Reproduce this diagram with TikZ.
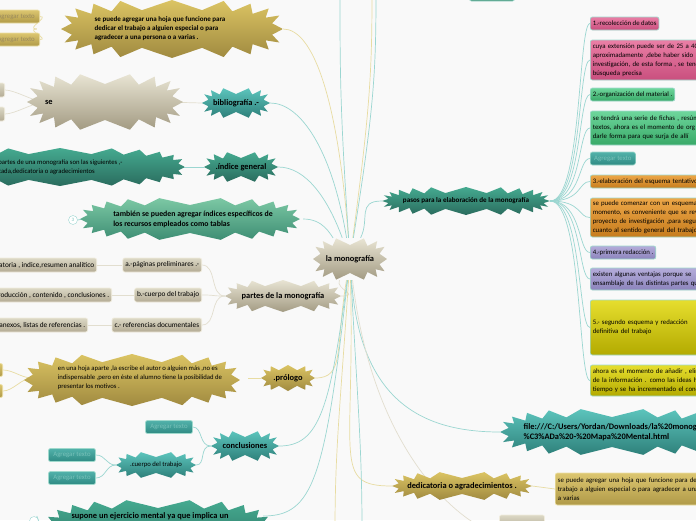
\documentclass[tikz,border=0pt]{standalone}
\usepackage{fontspec}
\setmainfont{Carlito}
\usetikzlibrary{backgrounds}

\definecolor{pagebg}{HTML}{F9F9F9}
\definecolor{goldT}{HTML}{DBC463}
\definecolor{goldB}{HTML}{A08A40}
\definecolor{beigeT}{HTML}{E8E4D3}
\definecolor{beigeB}{HTML}{A39B83}
\definecolor{tealT}{HTML}{5CC4BC}
\definecolor{tealB}{HTML}{2E807A}
\definecolor{pineT}{HTML}{45AA90}
\definecolor{pineB}{HTML}{2A6C5E}
\definecolor{mintT}{HTML}{7CC8A4}
\definecolor{mintB}{HTML}{3E8E74}
\definecolor{lineTeal}{HTML}{9BD6D1}
\definecolor{lineGold}{HTML}{E8DCA2}
\definecolor{lineBeige}{HTML}{E2DECF}
\definecolor{cardBeigeT}{HTML}{DCD8C5}
\definecolor{cardBeigeB}{HTML}{B3AB94}
\definecolor{cardBeigeE}{HTML}{F0ECDD}
\definecolor{pinkT}{HTML}{EA7FA6}
\definecolor{pinkB}{HTML}{C94F7E}
\definecolor{greenT}{HTML}{6ED69C}
\definecolor{greenB}{HTML}{39A968}
\definecolor{dimT}{HTML}{52B2AA}
\definecolor{dimB}{HTML}{2F8A83}
\definecolor{orangeT}{HTML}{EDA748}
\definecolor{orangeB}{HTML}{C67C1D}
\definecolor{lilacT}{HTML}{B4ACDA}
\definecolor{lilacB}{HTML}{8C84BC}
\definecolor{lemonT}{HTML}{E6DE2E}
\definecolor{lemonB}{HTML}{B3AA00}
\definecolor{sandT}{HTML}{DCC670}
\definecolor{sandB}{HTML}{B09A48}
\definecolor{sandE}{HTML}{ECDFA4}
\definecolor{cardEdge}{HTML}{9FD9CC}
\definecolor{dimText}{HTML}{78C2BA}
\definecolor{sandText}{HTML}{9A8A5C}

% spiky blob: cx, cy, half width, half height, spikes, depth, fill style
\newcommand{\jagged}[7]{%
  \pgfmathtruncatemacro{\jagsamples}{2*#5+1}%
  \shade[#7] plot[domain=0:360, samples=\jagsamples]
    ({#1+(#3-#6*mod(round(\x*#5/180),2))*cos(\x)*(abs(cos(\x))+0.001)^(-0.35)},
     {#2+(#4-#6*mod(round(\x*#5/180),2))*sin(\x)*(abs(sin(\x))+0.001)^(-0.35)}) -- cycle;}

\tikzset{
  goldfill/.style={top color=goldT, bottom color=goldB},
  beigefill/.style={top color=beigeT, bottom color=beigeB},
  tealfill/.style={top color=tealT, bottom color=tealB},
  pinefill/.style={top color=pineT, bottom color=pineB},
  mintfill/.style={top color=mintT, bottom color=mintB},
  hub/.style={inner sep=0pt, align=center, font=\fontsize{8.4}{10}\selectfont\bfseries},
  leaf/.style={inner sep=0pt, align=left, font=\fontsize{6.7}{9}\selectfont},
  card/.style={rounded corners=2pt, inner sep=2.5pt, align=left, minimum height=13pt,
    font=\fontsize{6.8}{9}\selectfont, line width=0.7pt},
  beigecard/.style={card, font=\fontsize{7.3}{9}\selectfont, minimum height=14pt,
    top color=cardBeigeT, bottom color=cardBeigeB, draw=cardBeigeE},
  sandcard/.style={card, top color=sandT, bottom color=sandB, draw=sandE},
  dimcard/.style={card, top color=dimT, bottom color=dimB, draw=cardEdge, text=dimText},
  pinkcard/.style={card, top color=pinkT, bottom color=pinkB, draw=cardEdge},
  greencard/.style={card, top color=greenT, bottom color=greenB, draw=cardEdge},
  orangecard/.style={card, top color=orangeT, bottom color=orangeB, draw=cardEdge},
  lilaccard/.style={card, top color=lilacT, bottom color=lilacB, draw=cardEdge},
  lemoncard/.style={card, top color=lemonT, bottom color=lemonB, draw=cardEdge},
  mintcard/.style={card, top color=mintT, bottom color=mintB, draw=cardEdge},
  fold/.style={circle, draw=lineTeal, fill=white, inner sep=0pt, minimum size=9pt,
    font=\fontsize{5}{5}\selectfont, text=dimText},
  gline/.style={lineGold, line width=0.7pt},
  tline/.style={lineTeal, line width=0.7pt},
  bline/.style={lineBeige, line width=0.7pt},
}

\begin{document}
\begin{tikzpicture}[x=1pt, y=-1pt]
  \useasboundingbox (0,0) rectangle (696,520);
  \begin{pgfonlayer}{background}
    \fill[pagebg] (0,0) rectangle (696,520);
  \end{pgfonlayer}

  % centro
  \jagged{350}{259}{37}{21}{14}{7}{beigefill}
  \node[hub, minimum width=74pt, minimum height=42pt] (mono) at (350,259) {la monografía};

  % ramas de la izquierda
  \jagged{172}{29}{111}{29}{20}{10}{goldfill}
  \node[hub, font=\fontsize{7}{9}\selectfont\bfseries, align=left, minimum width=246pt, minimum height=58pt] (topgold) at (160,29)
    {se puede agregar una hoja que funcione para\\dedicar el trabajo a alguien especial o para\\agradecer a una persona o a varias .};
  \node[sandcard, text=sandText, anchor=east, minimum width=47pt] (ag1) at (40,16.5) {Agregar texto};
  \node[sandcard, text=sandText, anchor=east, minimum width=47pt] (ag2) at (40,39.5) {Agregar texto};

  \jagged{236}{103}{34}{15}{14}{6}{tealfill}
  \node[hub, minimum width=68pt, minimum height=30pt] (bib) at (236,103) {bibliografía .-};
  \jagged{105}{102}{78}{28}{18}{10}{beigefill}
  \node[hub, text width=120pt, align=left, minimum height=56pt] (se) at (105,102) {se};
  \node[beigecard, anchor=east, minimum width=44pt] (se1) at (5,90) {};
  \node[beigecard, anchor=east, minimum width=44pt] (se2) at (5,114) {};

  \jagged{241}{167}{37}{15}{14}{6}{pinefill}
  \node[hub, minimum width=74pt, minimum height=30pt] (indice) at (241,167) {.índice general};
  \jagged{60}{167}{125}{19}{24}{6}{pinefill}
  \node[leaf, minimum width=250pt, minimum height=38pt] (partes0) at (56,167)
    {las partes de una monografía son las siguientes ,-\\portada,dedicatoria o agradecimientos};

  \jagged{190}{219}{110}{21}{22}{7}{mintfill}
  \node[hub, font=\fontsize{7.8}{10}\selectfont\bfseries, align=left, minimum width=220pt, minimum height=42pt] (tambien) at (193,219)
    {también se pueden agregar índices específicos de\\los recursos empleados como tablas};
  \node[fold] (fold3) at (73,220) {3};

  \jagged{283}{296}{58}{16}{16}{6}{beigefill}
  \node[hub, minimum width=116pt, minimum height=32pt] (partes) at (283,296) {partes de la monografía};
  \node[beigecard, anchor=east] (pa) at (202,265) {a.-páginas preliminares .-};
  \node[beigecard, anchor=east] (pb) at (202,295) {b.-cuerpo del trabajo};
  \node[beigecard, anchor=east] (pc) at (202,325) {c.- referencias documentales};
  \node[beigecard, anchor=east] (pa2) at (97,265) {dedicatoria , indice,resumen analítico};
  \node[beigecard, anchor=east] (pb2) at (112,295) {introducción , contenido , conclusiones .};
  \node[beigecard, anchor=east] (pc2) at (88,325) {anexos, listas de referencias .};

  \jagged{288}{378}{27}{13}{12}{5}{goldfill}
  \node[hub, minimum width=54pt, minimum height=26pt] (prologo) at (288,378) {.prólogo};
  \jagged{132}{380}{108}{26}{20}{8}{goldfill}
  \node[leaf, minimum width=216pt, minimum height=52pt] (prolog2) at (140,378)
    {en una hoja aparte ,la escribe el autor o alguien más ,no es\\indispensable ,pero en éste el alumno tiene la posibilidad de\\presentar los motivos .};
  \node[sandcard, anchor=east, minimum width=44pt] (pg1) at (3,370) {};
  \node[sandcard, anchor=east, minimum width=44pt] (pg2) at (3,391) {};

  \jagged{245}{446}{34}{15}{14}{6}{tealfill}
  \node[hub, minimum width=68pt, minimum height=30pt] (concl) at (245,446) {conclusiones};
  \node[dimcard, minimum width=47pt] (cag1) at (169,427) {Agregar texto};
  \jagged{156}{465}{40}{13}{14}{5}{tealfill}
  \node[leaf, minimum width=80pt, minimum height=26pt] (cuerpo) at (156,465) {.cuerpo del trabajo};
  \node[dimcard, minimum width=47pt] (cag2) at (72,455) {Agregar texto};
  \node[dimcard, minimum width=47pt] (cag3) at (72,478) {Agregar texto};

  \jagged{158}{530}{113}{30}{22}{8}{pinefill}
  \node[hub, minimum width=226pt, minimum height=30pt] (supone) at (150,516)
    {supone un ejercicio mental ya que implica un};
  \node[fold] (fold4) at (34,521) {};

  % ramas de la derecha
  \jagged{466}{201}{84}{14}{24}{6}{pinefill}
  \node[hub, font=\fontsize{7.1}{9}\selectfont\bfseries, minimum width=168pt, minimum height=28pt] (pasos) at (466,201)
    {pasos para la elaboración de la monografía};

  \node[pinkcard, anchor=west] (r1) at (590,23.5) {1.-recolección de datos};
  \node[pinkcard, anchor=west, text width=150pt, minimum height=40pt] (r2) at (590,60)
    {cuya extensión puede ser de 25 a 40\\aproximadamente ,debe haber sido\\investigación, de esta forma , se tend\\búsqueda precisa};
  \node[greencard, anchor=west] (r3) at (590,94.5) {2.-organización del material .};
  \node[greencard, anchor=west, text width=150pt, minimum height=34pt] (r4) at (590,128)
    {se tendrá una serie de fichas , resúm\\textos, ahora es el momento de org\\darle forma para que surja de allí};
  \node[dimcard, anchor=west, minimum width=45pt] (r5) at (590,158.5) {Agregar texto};
  \node[orangecard, anchor=west, text width=150pt] (r6) at (590,181.5) {3.-elaboración del esquema tentativo};
  \node[orangecard, anchor=west, text width=150pt, minimum height=39pt] (r7) at (590,217.5)
    {se puede comenzar con un esquema\\momento, es conveniente que se rev\\proyecto de investigación ,para segu\\cuanto al sentido general del trabajo};
  \node[lilaccard, anchor=west] (r8) at (590,252.5) {4.-primera redacción .};
  \node[lilaccard, anchor=west, text width=150pt, minimum height=22pt] (r9) at (590,279)
    {existen algunas ventajas porque se\\ensamblaje de las distintas partes qu};
  \node[lemoncard, anchor=west, text width=150pt, minimum height=55pt] (r10) at (590,327.5)
    {5.- segundo esquema y redacción\\definitiva del trabajo};
  \node[lemoncard, anchor=west, text width=150pt, minimum height=31pt] (r11) at (590,380.5)
    {ahora es el momento de añadir , elim\\de la información . como las ideas ha\\tiempo y se ha incrementado el cono};

  \jagged{612}{432}{112}{23}{22}{8}{tealfill}
  \node[hub, align=left, minimum width=230pt, minimum height=46pt] (file) at (615,432)
    {file:///C:/Users/Yordan/Downloads/la\%20monograf\\\%C3\%ADa\%20-\%20Mapa\%20Mental.html};

  \jagged{462}{486}{70}{14}{18}{6}{goldfill}
  \node[hub, minimum width=140pt, minimum height=28pt] (dedic) at (462,486) {dedicatoria o agradecimientos .};
  \node[sandcard, anchor=west, text width=210pt, minimum height=32pt] (dedic2) at (555,489)
    {se puede agregar una hoja que funcione para dedicar el\\trabajo a alguien especial o para agradecer a una persona o\\a varias};

  \node[mintcard, minimum width=45pt, minimum height=14pt] (topbox) at (492,-6) {};
  \node[beigecard, minimum width=45pt, minimum height=14pt] (botbox) at (522,522) {};

  \coordinate (up1) at (340,-8);
  \coordinate (up2) at (372,-8);
  \coordinate (up3) at (376,-8);
  \coordinate (dn1) at (335,530);
  \coordinate (dn2) at (362,530);

  % conectores
  \begin{pgfonlayer}{background}
    \draw[gline] (mono) .. controls +(-12,-160) and +(30,0) .. (topgold.east);
    \draw[tline] (mono) .. controls +(-18,-110) and +(30,0) .. (bib.east);
    \draw[tline] (mono) .. controls +(-22,-60) and +(28,0) .. (indice.east);
    \draw[tline] (mono) .. controls +(-20,-25) and +(20,0) .. (tambien.east);
    \draw[tline] (mono) .. controls +(-10,-150) and +(0,80) .. (up1);
    \draw[gline] (mono) .. controls +(20,-150) and +(0,80) .. (up2);
    \draw[tline] (mono) .. controls +(24,-150) and +(0,80) .. (up3);
    \draw[bline] (mono) .. controls +(-15,30) and +(20,0) .. (partes.east);
    \draw[gline] (mono) .. controls +(-15,90) and +(30,0) .. (prologo.east);
    \draw[tline] (mono) .. controls +(-20,150) and +(40,0) .. (concl.east);
    \draw[tline] (mono) .. controls +(-25,220) and +(50,0) .. (supone.east);
    \draw[tline] (mono) .. controls +(20,-40) and +(-25,0) .. (pasos.west);
    \draw[tline] (mono) .. controls +(10,140) and +(-80,0) .. (file.west);
    \draw[gline] (mono) .. controls +(5,200) and +(-60,0) .. (dedic.west);
    \draw[bline] (mono) .. controls +(30,250) and +(0,30) .. (botbox.south);
    \draw[gline] (mono) .. controls +(-10,150) and +(0,-80) .. (dn1);
    \draw[tline] (mono) .. controls +(8,150) and +(0,-80) .. (dn2);

    \draw[gline] (topgold.west) .. controls +(-12,0) and +(10,0) .. (ag1.east);
    \draw[gline] (topgold.west) .. controls +(-12,0) and +(10,0) .. (ag2.east);
    \draw[bline] (bib.west) -- (se.east);
    \draw[bline] (se.west) .. controls +(-10,0) and +(10,0) .. (se1.east);
    \draw[bline] (se.west) .. controls +(-10,0) and +(10,0) .. (se2.east);
    \draw[tline] (indice.west) -- (partes0.east);
    \draw[tline] (tambien.west) -- (fold3.east);
    \draw[tline] (supone.west) -- (fold4.east);
    \foreach \p in {pa,pb,pc}
      \draw[bline] (partes.west) .. controls +(-15,0) and +(15,0) .. (\p.east);
    \draw[bline] (pa.west) -- (pa2.east);
    \draw[bline] (pb.west) -- (pb2.east);
    \draw[bline] (pc.west) -- (pc2.east);
    \draw[gline] (prologo.west) -- (prolog2.east);
    \draw[gline] (prolog2.west) .. controls +(-10,0) and +(10,0) .. (pg1.east);
    \draw[gline] (prolog2.west) .. controls +(-10,0) and +(10,0) .. (pg2.east);
    \draw[tline] (concl.west) .. controls +(-12,0) and +(10,0) .. (cag1.east);
    \draw[tline] (concl.west) .. controls +(-12,0) and +(10,0) .. (cuerpo.east);
    \draw[tline] (cuerpo.west) .. controls +(-10,0) and +(10,0) .. (cag2.east);
    \draw[tline] (cuerpo.west) .. controls +(-10,0) and +(10,0) .. (cag3.east);
    \foreach \i in {1,...,11}
      \draw[tline] (pasos.east) .. controls +(32,0) and +(-12,0) .. (r\i.west);
    \draw[gline] (dedic.east) -- (dedic2.west);
  \end{pgfonlayer}
\end{tikzpicture}
\end{document}
